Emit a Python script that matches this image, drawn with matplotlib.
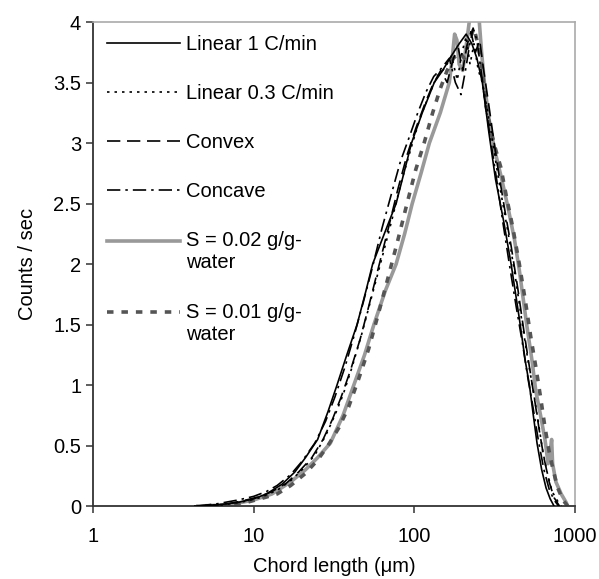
import numpy as np
import matplotlib.pyplot as plt
from matplotlib.ticker import FixedLocator, NullLocator, FormatStrFormatter
from matplotlib.legend_handler import HandlerLine2D

plt.rcParams['font.family'] = ['Liberation Sans', 'DejaVu Sans']

# chord length (um) and counts/sec
lin1_x = [4.3, 6, 8, 10, 12, 15, 18, 21, 25, 29, 33, 38, 44, 50, 55, 65, 77, 86, 96, 112, 133, 150, 170, 190, 210,
          228, 245, 265, 290, 320, 360, 400, 450, 490, 520, 550, 580, 620, 660, 700, 740]
lin1_y = [0, 0.01, 0.03, 0.06, 0.1, 0.18, 0.28, 0.4, 0.55, 0.78, 1.0, 1.25, 1.5, 1.78, 2.0, 2.25, 2.5, 2.75, 3.0, 3.25,
          3.5, 3.6, 3.72, 3.82, 3.9, 3.82, 3.7, 3.5, 3.1, 2.7, 2.35, 2.0, 1.55, 1.2, 1.0, 0.75, 0.52, 0.3, 0.15, 0.06, 0]

lin03_x = [4.5, 6.5, 9, 11, 14, 17, 20, 24, 28, 32, 36, 41, 47, 54, 62, 72, 83, 95, 108, 122, 138, 155, 170, 185, 198,
           210, 222, 235, 250, 265, 282, 300, 325, 355, 390, 430, 470, 510, 550, 590, 630, 670, 720, 780, 820]
lin03_y = [0, 0.01, 0.04, 0.07, 0.13, 0.21, 0.3, 0.42, 0.58, 0.75, 0.92, 1.15, 1.42, 1.72, 2.02, 2.35, 2.68, 2.95, 3.2,
           3.38, 3.55, 3.62, 3.72, 3.52, 3.75, 3.88, 3.65, 3.82, 3.6, 3.5, 3.3, 3.1, 2.8, 2.5, 2.2, 1.85, 1.5, 1.2,
           0.95, 0.7, 0.45, 0.28, 0.12, 0.04, 0]

convex_x = [5, 7, 9, 11, 13, 16, 19, 23, 27, 31, 35, 40, 46, 52, 60, 69, 79, 90, 102, 116, 130, 146, 160, 175, 188,
            200, 212, 225, 240, 255, 270, 288, 310, 335, 365, 400, 440, 480, 520, 560, 600, 640, 690, 740, 800]
convex_y = [0, 0.02, 0.05, 0.08, 0.12, 0.19, 0.28, 0.4, 0.55, 0.72, 0.9, 1.12, 1.38, 1.65, 1.98, 2.3, 2.62, 2.9, 3.12,
            3.32, 3.48, 3.6, 3.5, 3.7, 3.78, 3.6, 3.8, 3.92, 3.75, 3.85, 3.6, 3.35, 3.05, 2.75, 2.45, 2.15, 1.8,
            1.45, 1.15, 0.88, 0.62, 0.4, 0.2, 0.07, 0]

concave_x = [4.5, 6, 8, 10, 12, 14, 17, 20, 24, 28, 32, 37, 42, 48, 55, 63, 72, 82, 93, 105, 118, 132, 148, 165, 180,
             195, 208, 220, 232, 245, 260, 278, 300, 325, 355, 390, 430, 470, 510, 550, 590, 640, 690, 740, 790]
concave_y = [0, 0.02, 0.05, 0.08, 0.12, 0.17, 0.26, 0.37, 0.52, 0.7, 0.9, 1.15, 1.4, 1.68, 1.98, 2.3, 2.58, 2.85, 3.05,
             3.25, 3.42, 3.55, 3.62, 3.7, 3.5, 3.4, 3.6, 3.8, 3.95, 3.85, 3.6, 3.3, 3.0, 2.7, 2.35, 2.0, 1.65, 1.35,
             1.05, 0.8, 0.55, 0.3, 0.14, 0.05, 0]

s002_x = [4.5, 7, 10, 13, 17, 21, 25, 30, 36, 42, 49, 56, 66, 77, 87, 97, 110, 124, 145, 165, 172, 178, 184, 190, 200,
          210, 222, 238, 252, 262, 275, 295, 315, 350, 385, 420, 450, 500, 540, 570, 610, 650, 680, 700, 715, 725,
          760, 820, 880, 900]
s002_y = [0, 0.01, 0.05, 0.1, 0.2, 0.3, 0.4, 0.52, 0.75, 1.0, 1.25, 1.5, 1.78, 2.0, 2.25, 2.5, 2.75, 3.0, 3.25, 3.5,
          3.7, 3.9, 3.85, 3.65, 3.6, 3.8, 4.05, 4.1, 4.05, 3.75, 3.45, 3.15, 2.95, 2.7, 2.45, 2.2, 1.95, 1.5, 1.2,
          0.95, 0.75, 0.55, 0.35, 0.45, 0.55, 0.35, 0.2, 0.1, 0.03, 0]

s001_x = [5, 7, 9, 11, 14, 17, 21, 25, 29, 34, 39, 45, 52, 60, 69, 79, 90, 102, 115, 130, 145, 160, 175, 190, 205, 220,
          235, 250, 265, 280, 300, 320, 345, 375, 410, 450, 490, 530, 570, 610, 650, 690, 730, 780, 840, 900]
s001_y = [0, 0.01, 0.03, 0.06, 0.1, 0.17, 0.27, 0.38, 0.5, 0.65, 0.82, 1.05, 1.3, 1.6, 1.9, 2.2, 2.5, 2.78, 3.0, 3.25,
          3.45, 3.6, 3.7, 3.75, 3.7, 3.85, 3.95, 3.8, 3.6, 3.3, 3.1, 2.95, 2.8, 2.55, 2.3, 2.0, 1.7, 1.4, 1.15, 0.9,
          0.65, 0.45, 0.3, 0.15, 0.05, 0]

labels = ['Linear 1 C/min', 'Linear 0.3 C/min', 'Convex', 'Concave', 'S = 0.02 g/g-\nwater', 'S = 0.01 g/g-\nwater']


class HandlerTopLine(HandlerLine2D):
    # put the legend line level with the first line of a two-line label
    def create_artists(self, legend, orig_handle, xdescent, ydescent, width, height, fontsize, trans):
        arts = super().create_artists(legend, orig_handle, xdescent, ydescent, width, height, fontsize, trans)
        for a in arts:
            a.set_ydata(np.asarray(a.get_ydata()) + 0.58 * fontsize)
        return arts


fig = plt.figure(figsize=(5.99, 5.79), dpi=100)
ax = fig.add_axes([0.1553, 0.126, 0.8047, 0.836])

l5, = ax.plot(s002_x, s002_y, color='#999999', lw=2.6, label=labels[4], zorder=2)
l6, = ax.plot(s001_x, s001_y, color='#555555', lw=2.6, ls=(0, (1.8, 2.2)), label=labels[5], zorder=2)
l1, = ax.plot(lin1_x, lin1_y, color='black', lw=1.2, label=labels[0], zorder=3)
l2, = ax.plot(lin03_x, lin03_y, color='black', lw=1.2, ls=(0, (1.5, 3)), label=labels[1], zorder=3)
l3, = ax.plot(convex_x, convex_y, color='black', lw=1.2, ls=(0, (8, 4)), label=labels[2], zorder=3)
l4, = ax.plot(concave_x, concave_y, color='black', lw=1.2, ls=(0, (8, 3, 1.5, 3)), label=labels[3], zorder=3)

ax.set_xscale('log')
ax.set_xlim(1, 1000)
ax.set_ylim(0, 4)
ax.xaxis.set_major_locator(FixedLocator([1, 10, 100, 1000]))
ax.xaxis.set_minor_locator(NullLocator())
ax.xaxis.set_major_formatter(FormatStrFormatter('%g'))
ax.set_yticks(np.arange(0, 4.01, 0.5))
ax.yaxis.set_major_formatter(FormatStrFormatter('%g'))
ax.tick_params(axis='both', labelsize=14.5, direction='out', length=5, width=1.1, color='#333333')
ax.tick_params(axis='x', pad=10)

for side in ['top', 'right']:
    ax.spines[side].set_color('#aaaaaa')
    ax.spines[side].set_linewidth(1.2)
for side in ['left', 'bottom']:
    ax.spines[side].set_color('#333333')
    ax.spines[side].set_linewidth(1.3)

ax.set_xlabel('Chord length (\u03bcm)', fontsize=14.5, labelpad=8)
ax.set_ylabel('Counts / sec', fontsize=14.5, labelpad=12)

ax.legend([l1, l2, l3, l4, l5, l6], labels, loc='upper left', frameon=False,
          fontsize=14.5, handlelength=3.6, handletextpad=0.3, labelspacing=1.5,
          bbox_to_anchor=(0.0, 1.003), borderaxespad=0.3,
          handler_map={l5: HandlerTopLine(), l6: HandlerTopLine()})

fig.savefig('out.png', dpi=100)
